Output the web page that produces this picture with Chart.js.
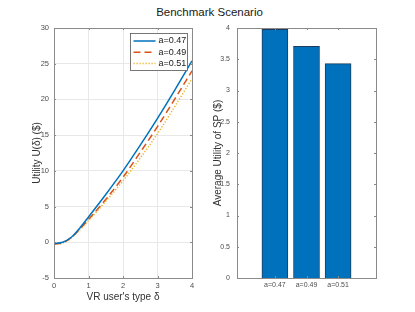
<!DOCTYPE html>
<html>
<head>
<meta charset="utf-8">
<script src="https://cdn.jsdelivr.net/npm/chart.js@4"></script>
<style>
  body { margin: 0; background: #fff; width: 415px; height: 312px; position: relative; overflow: hidden; font-family: "Liberation Sans", Arial, sans-serif; }
  #title { position: absolute; left: 2px; width: 415px; top: 6px; text-align: center; font-size: 11.5px; color: #1a1a1a; }
  #left { position: absolute; left: 0; top: 0; }
  #right { position: absolute; left: 200px; top: 0; }
</style>
</head>
<body>
<div id="title">Benchmark Scenario</div>
<canvas id="left" width="200" height="312"></canvas>
<canvas id="right" width="215" height="312"></canvas>
<script>
// left panel: utility vs user type
const deltas = [0, 0.25, 0.5, 0.75, 1, 1.5, 2, 2.5, 3, 3.5, 4];
const u047 = [-0.2, 0.0, 0.7, 2.0, 3.55, 6.7, 10.0, 13.6, 17.35, 21.3, 25.4];
const u049 = [-0.25, -0.05, 0.65, 1.85, 3.2, 6.0, 9.1, 12.6, 16.2, 20.05, 24.0];
const u051 = [-0.3, -0.1, 0.6, 1.75, 3.05, 5.75, 8.6, 11.8, 15.2, 19.0, 22.9];
const seriesNames = ['a=0.47', 'a=0.49', 'a=0.51'];

// right panel: average SP utility
const barLabels = ['a=0.47', 'a=0.49', 'a=0.51'];
const barValues = [3.98, 3.705, 3.43];

const blue = '#0072BD', orange = '#D95319', yellow = '#EDB120';
const axisCol = '#8a8a8a';
const tickFont = { family: 'Liberation Sans', size: 7.5 };
const smallFont = { family: 'Liberation Sans', size: 7 };
const labelFont = { family: 'Liberation Sans', size: 10 };

// box around plot + inward ticks
const boxPlugin = {
  id: 'box',
  afterDraw(chart, args, opts) {
    const { ctx, chartArea: a, scales } = chart;
    ctx.save();
    ctx.strokeStyle = axisCol;
    ctx.lineWidth = 1;
    ctx.strokeRect(Math.round(a.left) + 0.5, Math.round(a.top) + 0.5, Math.round(a.right - a.left), Math.round(a.bottom - a.top));
    const len = opts.len || 2;
    ctx.beginPath();
    scales.x.ticks.forEach(t => {
      const px = Math.round(scales.x.getPixelForValue(t.value)) + 0.5;
      ctx.moveTo(px, a.bottom); ctx.lineTo(px, a.bottom - len);
      ctx.moveTo(px, a.top); ctx.lineTo(px, a.top + len);
    });
    scales.y.ticks.forEach(t => {
      const py = Math.round(scales.y.getPixelForValue(t.value)) + 0.5;
      ctx.moveTo(a.left, py); ctx.lineTo(a.left + len, py);
      ctx.moveTo(a.right, py); ctx.lineTo(a.right - len, py);
    });
    ctx.stroke();
    ctx.restore();
  }
};

// legend drawn inside the plot, top right
const insideLegend = {
  id: 'insideLegend',
  afterDraw(chart) {
    const { ctx } = chart;
    const x0 = 130.5, y0 = 33.5, w = 57, h = 37;
    ctx.save();
    ctx.fillStyle = '#fff';
    ctx.fillRect(x0, y0, w, h);
    ctx.strokeStyle = '#555';
    ctx.lineWidth = 0.8;
    ctx.strokeRect(x0, y0, w, h);
    ctx.font = '9px "Liberation Sans"';
    ctx.textBaseline = 'middle';
    chart.data.datasets.forEach((ds, i) => {
      const y = 41 + i * 11.2;
      ctx.strokeStyle = ds.borderColor;
      ctx.lineWidth = ds.borderWidth;
      ctx.setLineDash(ds.borderDash || []);
      ctx.beginPath();
      ctx.moveTo(x0 + 3, y); ctx.lineTo(x0 + 25, y);
      ctx.stroke();
      ctx.setLineDash([]);
      ctx.fillStyle = '#1a1a1a';
      ctx.fillText(ds.label, x0 + 28, y);
    });
    ctx.restore();
  }
};

const toXY = vals => vals.map((v, i) => ({ x: deltas[i], y: v }));
const lineStyle = { borderWidth: 1.5, cubicInterpolationMode: 'monotone', pointRadius: 0 };

new Chart(document.getElementById('left'), {
  type: 'line',
  data: {
    datasets: [
      { label: seriesNames[0], data: toXY(u047), borderColor: blue, ...lineStyle },
      { label: seriesNames[1], data: toXY(u049), borderColor: orange, borderDash: [7, 4], ...lineStyle },
      { label: seriesNames[2], data: toXY(u051), borderColor: yellow, borderDash: [1.2, 1.8], ...lineStyle }
    ]
  },
  options: {
    responsive: false,
    animation: false,
    layout: { padding: { left: 0, right: 8, top: 28, bottom: 9 } },
    plugins: { legend: { display: false }, tooltip: { enabled: false }, box: { len: 2 } },
    scales: {
      x: {
        type: 'linear', min: 0, max: 4,
        ticks: { stepSize: 1, font: tickFont, color: '#4d4d4d', padding: 3, maxRotation: 0 },
        grid: { color: '#e8e8e8', drawTicks: false },
        border: { display: false },
        title: { display: true, text: "VR user's type δ", font: labelFont, color: '#333', padding: 0 },
        afterFit: s => { s.height = 25; }
      },
      y: {
        min: -5, max: 30,
        ticks: { stepSize: 5, font: tickFont, color: '#4d4d4d', padding: 5 },
        grid: { color: '#e8e8e8', drawTicks: false },
        border: { display: false },
        title: { display: true, text: 'Utility U(δ) ($)', font: labelFont, color: '#333', padding: { top: 31, bottom: 0 } },
        afterFit: s => { s.width = 54; }
      }
    }
  },
  plugins: [boxPlugin, insideLegend]
});

new Chart(document.getElementById('right'), {
  type: 'bar',
  data: {
    datasets: [{
      data: barValues.map((v, i) => ({ x: i + 1, y: v })),
      backgroundColor: blue,
      borderColor: '#1d3b5c',
      borderWidth: 1,
      barThickness: 26
    }]
  },
  options: {
    responsive: false,
    animation: false,
    layout: { padding: { left: 0, right: 39, top: 28, bottom: 9 } },
    plugins: { legend: { display: false }, tooltip: { enabled: false }, box: { len: 2 } },
    scales: {
      x: {
        type: 'linear', min: -0.2, max: 4.2, offset: false,
        afterBuildTicks: s => { s.ticks = [1, 2, 3].map(v => ({ value: v })); },
        ticks: { font: smallFont, color: '#4d4d4d', padding: 3, maxRotation: 0, callback: v => barLabels[v - 1] },
        grid: { display: false, drawTicks: false },
        border: { display: false },
        afterFit: s => { s.height = 25; }
      },
      y: {
        min: 0, max: 4,
        ticks: { stepSize: 0.5, font: smallFont, color: '#4d4d4d', padding: 7, callback: v => String(v) },
        grid: { display: false, drawTicks: false },
        border: { display: false },
        title: { display: true, text: 'Average Utility of SP ($)', font: labelFont, color: '#333', padding: { top: 12, bottom: 0 } },
        afterFit: s => { s.width = 37; }
      }
    }
  },
  plugins: [boxPlugin]
});
</script>
</body>
</html>
